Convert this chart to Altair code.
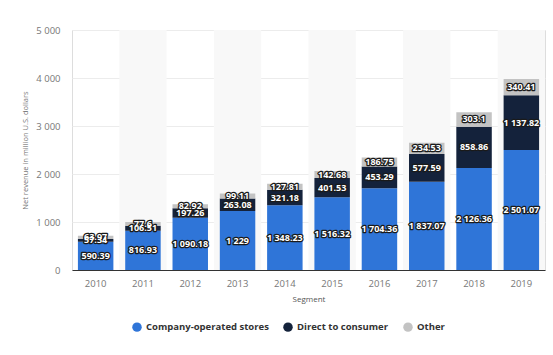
import altair as alt
import pandas as pd

years = ["2010", "2011", "2012", "2013", "2014", "2015", "2016", "2017", "2018", "2019"]
company = [590.39, 816.93, 1090.18, 1229, 1348.23, 1516.32, 1704.36, 1837.07, 2126.36, 2501.07]
direct = [57.34, 106.51, 197.26, 263.08, 321.18, 401.53, 453.29, 577.59, 858.86, 1137.82]
other = [63.97, 77.6, 82.92, 99.11, 127.81, 142.68, 186.75, 234.53, 303.1, 340.41]
segments = ["Company-operated stores", "Direct to consumer", "Other"]
colors = ["#2f75d8", "#14223b", "#c3c3c3"]
band_years = ["2011", "2013", "2015", "2017", "2019"]

rows = []
for i, y in enumerate(years):
    for k, (seg, vals) in enumerate(zip(segments, [company, direct, other])):
        rows.append({"year": y, "segment": seg, "value": vals[i], "order": k})
df = pd.DataFrame(rows)
bands = pd.DataFrame({"year": band_years, "top": [5000] * len(band_years)})

x = alt.X("year:N", title="Segment", sort=years,
          scale=alt.Scale(paddingInner=0.25, paddingOuter=0.125),
          axis=alt.Axis(labelAngle=0, labelColor="#777", labelFontSize=9.5, titleFontSize=8,
                        titleColor="#555", titleFontWeight="normal", ticks=False,
                        domainColor="#333", labelPadding=8, titlePadding=8))

bg = alt.Chart(bands).mark_bar(color="#f8f8f8", width=alt.RelativeBandSize(1.3333)).encode(
    x=x, y=alt.Y("top:Q"))

yenc = alt.Y("value:Q", stack="zero", title="Net revenue in million U.S. dollars",
             scale=alt.Scale(domain=[0, 5000]),
             axis=alt.Axis(values=[0, 1000, 2000, 3000, 4000, 5000],
                           labelExpr="replace(format(datum.value, ','), ',', ' ')",
                           labelColor="#777", labelFontSize=9.5, titleFontSize=7.5,
                           titleColor="#777", titleFontWeight="normal", domain=False, ticks=False,
                           gridColor="#ececec", labelPadding=12, titlePadding=6))

bars = alt.Chart(df).mark_bar().encode(
    x=x,
    y=yenc,
    color=alt.Color("segment:N", sort=segments,
                    scale=alt.Scale(domain=segments, range=colors),
                    legend=alt.Legend(title=None, orient="none", legendX=60, legendY=292,
                                      direction="horizontal", symbolType="circle", symbolSize=90,
                                      labelFontSize=9.5, labelColor="#333", labelFontWeight="bold",
                                      columnPadding=14, symbolStrokeWidth=0)),
    order=alt.Order("order:Q"),
)

base_text = alt.Chart(df).transform_stack(
    stack="value", groupby=["year"], as_=["v0", "v1"], sort=[alt.SortField("order")]
).transform_calculate(
    mid="(datum.v0 + datum.v1) / 2",
    label="replace(format(datum.value, ',.2~f'), ',', ' ')"
).encode(
    x=alt.X("year:N", sort=years),
    y=alt.Y("mid:Q"),
    text="label:N",
)
halo = base_text.mark_text(fontSize=9, fontWeight="bold", stroke="#1a1a1a", strokeWidth=2.5,
                           strokeJoin="round", color="#1a1a1a", baseline="middle")
txt = base_text.mark_text(fontSize=9, fontWeight="bold", color="white", baseline="middle")

chart = alt.layer(bg, bars, halo, txt).properties(
    width=473, height=240,
    autosize=alt.AutoSizeParams(type="none"),
    padding={"left": 72, "top": 30, "right": 8, "bottom": 85},
).configure_view(stroke=None).configure(font="Open Sans")

chart.save("out.html", embed_options={"renderer": "svg", "actions": False})
